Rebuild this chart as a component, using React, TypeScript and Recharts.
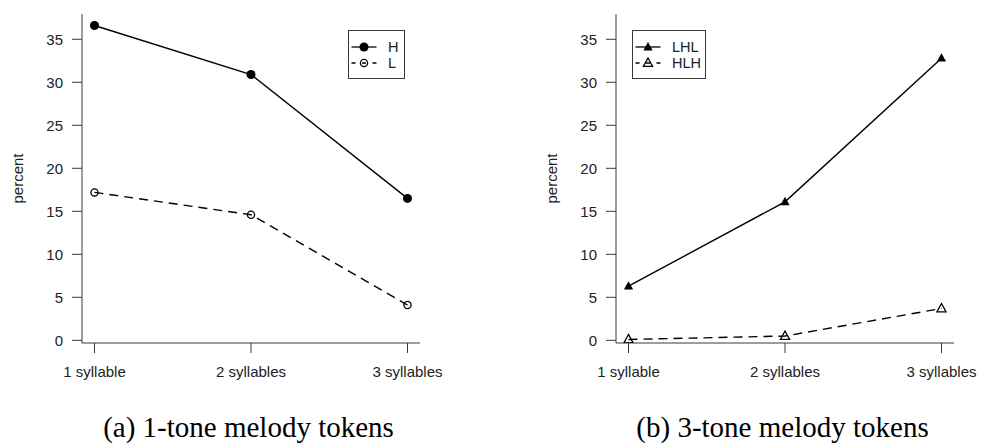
import {Line, LineChart, XAxis, YAxis} from "recharts";

const categories = ["1 syllable", "2 syllables", "3 syllables"];
const hValues = [36.6, 30.9, 16.5];
const lValues = [17.2, 14.6, 4.1];
const lhlValues = [6.3, 16.1, 32.8];
const hlhValues = [0.1, 0.5, 3.7];
const yTicks = [0, 5, 10, 15, 20, 25, 30, 35];

const oneTone = categories.map((c, i) => ({cat: c, H: hValues[i], L: lValues[i]}));
const threeTone = categories.map((c, i) => ({cat: c, LHL: lhlValues[i], HLH: hlhValues[i]}));

const SANS = "'Liberation Sans', Arial, sans-serif";
const SERIF = "'Liberation Serif', 'Times New Roman', serif";
const INK = "#000";
const FRAME = "#3a3a3a";
const DASH = "9 6";

type Shape = "dot" | "ring" | "tri" | "opentri";

function Marker({shape, cx, cy}: {shape: Shape; cx: number; cy: number}) {
  if (shape === "dot") return <circle cx={cx} cy={cy} r={4.5} fill={INK} />;
  if (shape === "ring") return <circle cx={cx} cy={cy} r={3.6} fill="none" stroke={INK} strokeWidth={1.3} />;
  const pts = `${cx},${cy - 5} ${cx - 4.6},${cy + 3.4} ${cx + 4.6},${cy + 3.4}`;
  if (shape === "tri") return <polygon points={pts} fill={INK} />;
  return <polygon points={pts} fill="none" stroke={INK} strokeWidth={1.3} />;
}

const dotOf = (shape: Shape) => (p: any) => (
  <Marker key={p.index} shape={shape} cx={p.cx} cy={p.cy} />
);

function LegendBox({left, width, items}: {left: number; width: number; items: {name: string; shape: Shape; dashed: boolean}[]}) {
  return (
    <svg width={width + 2} height={50} style={{position: "absolute", left, top: 30}}>
      <rect x={0.5} y={0.5} width={width} height={48} fill="#fff" stroke={FRAME} strokeWidth={1} />
      {items.map((it, i) => {
        const y = 17 + i * 16;
        return (
          <g key={it.name}>
            <line x1={3.5} x2={28.5} y1={y} y2={y} stroke={INK} strokeWidth={1.3} strokeDasharray={it.dashed ? "4 6.5" : undefined} />
            <Marker shape={it.shape} cx={16} cy={y} />
            <text x={40} y={y} dominantBaseline="central" fontFamily={SANS} fontSize={14.5} fill="#222">{it.name}</text>
          </g>
        );
      })}
    </svg>
  );
}

function Panel({data, keys, shapes, left, marginLeft, marginRight, caption}: {
  data: any[]; keys: string[]; shapes: Shape[]; left: number; marginLeft: number; marginRight: number; caption: string;
}) {
  const tick = {fontFamily: SANS, fontSize: 15, fill: "#222"};
  return (
    <div style={{position: "absolute", left, top: 0}}>
      <LineChart width={491} height={444} data={data} margin={{top: 14, right: marginRight, bottom: 71, left: marginLeft}}>
        <XAxis dataKey="cat" padding={{left: 12.5, right: 12.5}} height={30} tick={tick} tickSize={10} tickMargin={13}
          stroke={FRAME} interval={0}
          label={(props: any) => {
            const vb = props.viewBox;
            return <text x={vb.x + vb.width / 2 - 2.5} y={437} textAnchor="middle" fontFamily={SERIF} fontSize={29} fill="#000">{caption}</text>;
          }} />
        <XAxis xAxisId="top" orientation="top" height={0} tick={false} tickLine={false} stroke={FRAME} />
        <YAxis domain={[-0.31, 37.94]} ticks={yTicks} allowDataOverflow width={62} tick={tick} tickSize={10} tickMargin={9}
          stroke={FRAME} interval={0}
          label={(props: any) => {
            const vb = props.viewBox;
            const x = vb.x - 2.4;
            const y = vb.y + vb.height / 2;
            return <text x={x} y={y} transform={`rotate(-90 ${x} ${y})`} textAnchor="middle" dominantBaseline="central" fontFamily={SANS} fontSize={15} fill="#222">percent</text>;
          }} />
        <YAxis yAxisId="right" orientation="right" width={0} tick={false} tickLine={false} stroke={FRAME} />
        {keys.map((k, i) => (
          <Line key={k} dataKey={k} type="linear" stroke={INK} strokeWidth={1.4}
            strokeDasharray={i === 1 ? DASH : undefined} dot={dotOf(shapes[i])} activeDot={false}
            isAnimationActive={false} />
        ))}
      </LineChart>
    </div>
  );
}

export default function App() {
  return (
    <div style={{position: "absolute", left: 0, top: 0, width: 982, height: 444, background: "#fff"}}>
      <Panel data={oneTone} keys={["H", "L"]} shapes={["dot", "ring"]} left={0} marginLeft={20} marginRight={71}
        caption="(a) 1-tone melody tokens" />
      <Panel data={threeTone} keys={["LHL", "HLH"]} shapes={["tri", "opentri"]} left={491} marginLeft={63} marginRight={28}
        caption="(b) 3-tone melody tokens" />
      <LegendBox left={348} width={56} items={[
        {name: "H", shape: "dot", dashed: false},
        {name: "L", shape: "ring", dashed: true},
      ]} />
      <LegendBox left={632} width={73} items={[
        {name: "LHL", shape: "tri", dashed: false},
        {name: "HLH", shape: "opentri", dashed: true},
      ]} />
    </div>
  );
}
